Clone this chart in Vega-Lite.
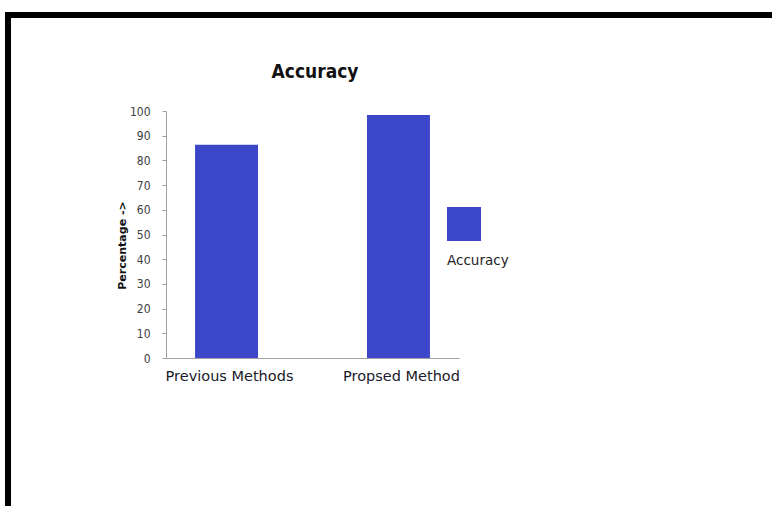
{
  "$schema": "https://vega.github.io/schema/vega-lite/v6.json",
  "autosize": {"type": "none"},
  "padding": {"left": 8, "top": 15, "right": 0, "bottom": 0},
  "width": 800,
  "height": 520,
  "background": "white",
  "config": {"view": {"stroke": "black", "strokeWidth": 6, "fill": "white"}},
  "title": {
    "text": "Accuracy",
    "font": "'DejaVu Sans Condensed', 'Liberation Sans', sans-serif",
    "fontSize": 19,
    "fontWeight": "bold",
    "color": "#111111",
    "anchor": "middle",
    "frame": "group",
    "baseline": "middle",
    "offset": 0,
    "dx": -93,
    "dy": 76
  },
  "data": {
    "values": [
      {"method": "Previous Methods", "value": 86.3, "series": "Accuracy"},
      {"method": "Propsed Method", "value": 98.4, "series": "Accuracy"}
    ]
  },
  "mark": {"type": "bar"},
  "encoding": {
    "x": {
      "field": "method",
      "type": "nominal",
      "sort": null,
      "scale": {"range": [158, 451], "paddingInner": 0.634, "paddingOuter": 0.169},
      "axis": {
        "title": null,
        "labelAngle": 0,
        "offset": -177,
        "domainColor": "#a0a0a0",
        "tickSize": 0,
        "labelPadding": 11,
        "labelFont": "DejaVu Sans",
        "labelFontSize": 14.5,
        "labelFontWeight": 500,
        "labelColor": "#1a1a2a",
        "labelOffset": 3
      }
    },
    "y": {
      "field": "value",
      "type": "quantitative",
      "scale": {"domain": [0, 100], "range": [343, 96]},
      "axis": {
        "values": [0, 10, 20, 30, 40, 50, 60, 70, 80, 90, 100],
        "offset": -158,
        "grid": false,
        "domainColor": "#a0a0a0",
        "tickColor": "#a0a0a0",
        "tickSize": 4,
        "labelPadding": 12,
        "labelFont": "'DejaVu Sans Condensed', 'Liberation Sans', sans-serif",
        "labelFontSize": 12,
        "labelColor": "#404040",
        "title": "Percentage ->",
        "titleFont": "DejaVu Sans",
        "titleFontSize": 11,
        "titleFontWeight": "bold",
        "titleColor": "#111111",
        "titleAngle": -90,
        "titleX": -44,
        "titleY": 230,
        "titleAlign": "center",
        "titleBaseline": "middle"
      }
    },
    "color": {
      "field": "series",
      "type": "nominal",
      "scale": {"range": ["#3c46c8"]},
      "legend": {
        "orient": "none",
        "legendX": 439,
        "legendY": 192,
        "padding": 0,
        "symbolType": "square",
        "symbolSize": 1156,
        "symbolStrokeWidth": 0,
        "symbolOpacity": 1,
        "labelExpr": "''",
        "title": "Accuracy",
        "titleOrient": "bottom",
        "titlePadding": 13,
        "titleFont": "DejaVu Sans",
        "titleFontSize": 13.5,
        "titleFontWeight": "normal",
        "titleColor": "#222222"
      }
    }
  }
}
